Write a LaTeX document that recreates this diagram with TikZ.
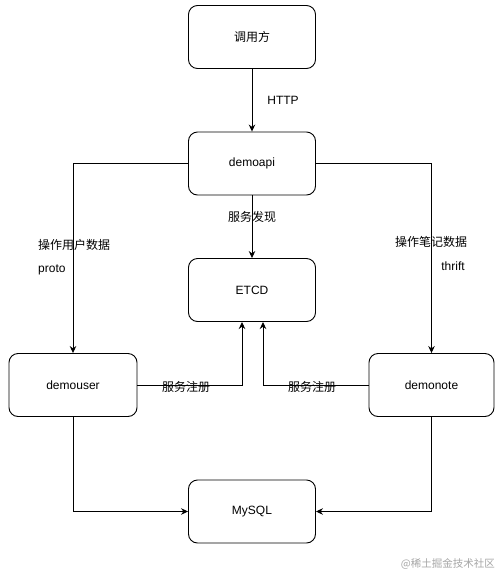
\documentclass[tikz,border=0pt]{standalone}
\usepackage{fontspec}
\setmainfont{Liberation Sans}
\newfontfamily\cjk{Noto Sans CJK SC}
\usetikzlibrary{arrows.meta}
\tikzset{
  box/.style={draw=black, line width=0.9pt, rounded corners=9pt, minimum width=127pt, minimum height=63pt, inner sep=0pt, font=\fontsize{12}{14}\selectfont},
  conn/.style={draw=black, line width=0.9pt, -{Stealth[length=7pt,width=6.5pt]}},
  lbl/.style={inner sep=0pt, font=\fontsize{12}{14}\selectfont},
  clbl/.style={inner sep=0pt, font=\cjk\fontsize{12}{14}\selectfont}
}
\begin{document}
\begin{tikzpicture}[x=1pt,y=-1pt]
\useasboundingbox (0,0) rectangle (500,574);
\fill[white] (0,0) rectangle (500,574);
\node[box] (caller) at (252,37) {\cjk 调用方};
\node[box] (api) at (252,163.5) {demoapi};
\node[box] (etcd) at (252,290) {ETCD};
\node[box, minimum width=128pt] (user) at (73,385) {demouser};
\node[box, minimum width=125pt] (note) at (431.5,385) {demonote};
\node[box] (mysql) at (252,511.5) {MySQL};
\coordinate (etcdL) at (242,322);
\coordinate (etcdR) at (263,322);
\draw[conn] (caller.south) -- (api.north);
\draw[conn] (api.south) -- (etcd.north);
\draw[conn] (api.west) -| (user.north);
\draw[conn] (api.east) -| (note.north);
\draw[conn] (user.east) -| (etcdL);
\draw[conn] (note.west) -| (etcdR);
\draw[conn] (user.south) |- (mysql.west);
\draw[conn] (note.south) |- (mysql.east);
\node[lbl] (lhttp) at (283,100) {HTTP};
\node[clbl] (lfind) at (252,217) {服务发现};
\node[clbl, anchor=west] (luser) at (38,245) {操作用户数据};
\node[lbl, anchor=west] (lproto) at (38,270) {proto};
\node[clbl] (lnote) at (431,242) {操作笔记数据};
\node[lbl] (lthrift) at (453,266) {thrift};
\node[clbl] (lreg1) at (186,387) {服务注册};
\node[clbl] (lreg2) at (312,387) {服务注册};
\node[inner sep=0pt, text=black!35, font=\cjk\fontsize{10.5}{12}\selectfont, anchor=east] (wm) at (495,564) {@稀土掘金技术社区};
\end{tikzpicture}
\end{document}
